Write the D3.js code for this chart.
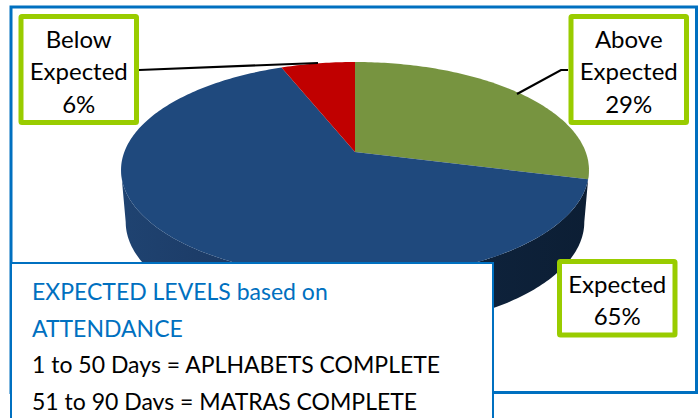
<!DOCTYPE html>
<html>
<head>
<meta charset="utf-8">
<script src="https://cdn.jsdelivr.net/npm/d3@7"></script>
<style>
html, body { margin: 0; padding: 0; background: #fff; overflow: hidden; }
text { font-family: Lato, "Noto Sans", sans-serif; }
</style>
</head>
<body>
<svg id="chart" width="698" height="418"></svg>
<script>
// Data
const categories = ["Above Expected", "Expected", "Below Expected"];
const percents = [29, 65, 6];
const sliceColors = ["#779440", "#1F497D", "#C00000"];
const noteTitle = ["EXPECTED LEVELS based on", "ATTENDANCE"];
const noteLines = ["1 to 50 Days = APLHABETS COMPLETE", "51 to 90 Days = MATRAS COMPLETE"];

const blue = "#0070C0";
const lime = "#99CC00";

const svg = d3.select("#chart");
const defs = svg.append("defs");

// Pie is a tilted disc, far side looks smaller
const centerX = 355, centerY = 152, radiusX = 230.7, radiusY = 105, tilt = 1 / 6;
const depth = 52, bottomScale = 0.98;

function rim(angle, drop) {
	const u = Math.sin(angle), v = Math.cos(angle), w = 1 + tilt * v;
	const s = drop ? bottomScale : 1;
	return [
		centerX + s * radiusX * u / w,
		centerY - radiusY * v / w + (drop ? depth : 0)
	];
}

function arcPoints(a0, a1, drop) {
	const n = Math.max(2, Math.ceil(Math.abs(a1 - a0) * 60));
	return d3.range(n + 1).map(i => rim(a0 + (a1 - a0) * i / n, drop));
}

const line = d3.line();
const slices = d3.pie().sort(null)(percents);

// Outer frame
svg.append("rect")
	.attr("x", 11).attr("y", 7)
	.attr("width", 685.5).attr("height", 385.5)
	.attr("fill", "#fff")
	.attr("stroke", blue)
	.attr("stroke-width", 3);

// Side wall, only the front half shows
const grad = defs.append("linearGradient")
	.attr("id", "side")
	.attr("gradientUnits", "userSpaceOnUse")
	.attr("x1", 120).attr("x2", 590).attr("y1", 0).attr("y2", 0);
grad.append("stop").attr("offset", 0).attr("stop-color", "#1F4371");
grad.append("stop").attr("offset", 0.3).attr("stop-color", "#1B3862");
grad.append("stop").attr("offset", 0.6).attr("stop-color", "#0F2540");
grad.append("stop").attr("offset", 1).attr("stop-color", "#0C1E34");

const frontStart = Math.PI - Math.acos(tilt);
const frontEnd = Math.PI + Math.acos(tilt);
const wall = arcPoints(frontStart, frontEnd, false)
	.concat(arcPoints(frontEnd, frontStart, true));
svg.append("path")
	.attr("d", line(wall) + "Z")
	.attr("fill", "url(#side)");

// Top of the pie
svg.selectAll("path.slice")
	.data(slices)
	.join("path")
	.attr("class", "slice")
	.attr("fill", (d, i) => sliceColors[i])
	.attr("d", d => line([[centerX, centerY]].concat(arcPoints(d.startAngle, d.endAngle, false))) + "Z");

// Leader lines
const leaders = [
	[[139, 70], [318, 63]],
	[[517, 94], [561, 70], [568, 70]]
];
svg.selectAll("path.leader")
	.data(leaders)
	.join("path")
	.attr("class", "leader")
	.attr("d", d => line(d))
	.attr("fill", "none")
	.attr("stroke", "#000")
	.attr("stroke-width", 2.2);

// Label boxes
const boxes = [
	{ x: 21, y: 16.5, w: 115.5, h: 106, cat: 2 },
	{ x: 571, y: 16.5, w: 115.5, h: 106, cat: 0 },
	{ x: 559.5, y: 261.5, w: 115.5, h: 73.5, cat: 1 }
];
boxes.forEach(b => {
	const rows = categories[b.cat].split(" ").concat(percents[b.cat] + "%");
	const g = svg.append("g");
	g.append("rect")
		.attr("x", b.x).attr("y", b.y)
		.attr("width", b.w).attr("height", b.h)
		.attr("rx", 1)
		.attr("fill", "#fff")
		.attr("stroke", lime)
		.attr("stroke-width", 5);
	const top = b.y + b.h / 2 - (rows.length - 1) * 32.5 / 2 + 10.5;
	g.selectAll("text")
		.data(rows)
		.join("text")
		.attr("x", b.x + b.w / 2)
		.attr("y", (d, i) => top + i * 32.5)
		.attr("text-anchor", "middle")
		.attr("font-size", 24)
		.attr("fill", "#000")
		.text(d => d);
});

// Note box on top, runs off the bottom of the page
svg.append("rect")
	.attr("x", 11).attr("y", 263)
	.attr("width", 482).attr("height", 170)
	.attr("fill", "#fff")
	.attr("stroke", blue)
	.attr("stroke-width", 2);

defs.append("clipPath").attr("id", "noteClip")
	.append("rect").attr("x", 12).attr("y", 264).attr("width", 480).attr("height", 146);

const note = svg.append("g").attr("clip-path", "url(#noteClip)");
note.selectAll("text")
	.data(noteTitle.concat(noteLines))
	.join("text")
	.attr("x", 32)
	.attr("y", (d, i) => 300 + i * 36.7)
	.attr("font-size", 23)
	.attr("fill", (d, i) => i < noteTitle.length ? blue : "#000")
	.text(d => d);
</script>
</body>
</html>
